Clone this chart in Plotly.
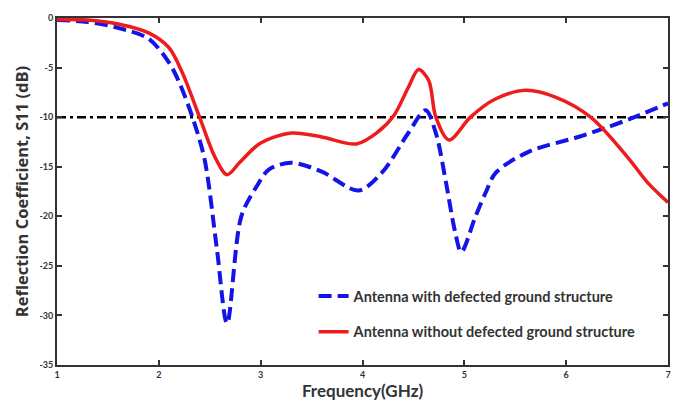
import plotly.graph_objects as go

# Frequency sweep (GHz) and S11 (dB) for the antenna without DGS
freq_without = [1.0, 1.3, 1.6, 1.9, 2.1, 2.23, 2.4, 2.55, 2.67, 2.8, 3.0, 3.3, 3.6, 3.94,
                4.15, 4.31, 4.45, 4.55, 4.65, 4.72, 4.85, 5.06, 5.3, 5.6, 5.9, 6.24,
                6.6, 6.8, 7.0]
s11_without = [-0.15, -0.2, -0.6, -1.5, -3.0, -5.5, -10.0, -14.0, -15.8, -14.5, -12.6,
               -11.6, -12.0, -12.7, -11.5, -9.8, -7.0, -5.2, -6.3, -10.0, -12.3, -10.0,
               -8.2, -7.3, -8.0, -10.0, -14.0, -16.6, -18.6]

# S11 (dB) for the antenna with defected ground structure
freq_with = [1.0, 1.3, 1.6, 1.9, 2.1, 2.2, 2.33, 2.45, 2.57, 2.67, 2.81, 2.96, 3.08,
             3.3, 3.6, 3.96, 4.19, 4.45, 4.62, 4.72, 4.82, 4.91, 4.97, 5.11, 5.21,
             5.31, 5.63, 6.12, 6.41, 6.67, 7.0]
s11_with = [-0.2, -0.4, -1.0, -2.1, -4.5, -6.5, -10.0, -14.3, -23.3, -30.8, -20.0,
            -17.0, -15.3, -14.6, -15.5, -17.4, -15.6, -11.6, -9.3, -11.6, -16.6,
            -21.6, -23.6, -20.0, -17.6, -15.6, -13.5, -12.0, -11.0, -10.0, -8.6]

# -10 dB bandwidth reference level
ref_freq = [1.0, 7.0]
ref_level = [-10.0, -10.0]

x_ticks = [1, 2, 3, 4, 5, 6, 7]
y_ticks = [0, -5, -10, -15, -20, -25, -30, -35]

label_font = dict(family="Lato", size=9, color="#333333", weight="bold")

fig = go.Figure()

fig.add_trace(go.Scatter(
    x=ref_freq, y=ref_level, mode="lines", showlegend=False,
    line=dict(color="black", width=2.5, dash="9px,4px,3px,4px"),
))
fig.add_trace(go.Scatter(
    x=freq_with, y=s11_with, mode="lines", name="Antenna with defected ground structure",
    legendgroup="g1",
    line=dict(color="#1414e6", width=4, dash="13px,6px", shape="spline", smoothing=0.9),
))
fig.add_trace(go.Scatter(
    x=freq_without, y=s11_without, mode="lines",
    name="Antenna without defected ground structure", legendgroup="g2",
    line=dict(color="#ee1c1c", width=3.5, shape="spline", smoothing=0.9),
))

axis_common = dict(
    showgrid=False, zeroline=False, showline=True, linecolor="#333333", linewidth=2,
    mirror="ticks", ticks="inside", ticklen=5, tickwidth=1.5, tickcolor="#333333",
    tickfont=label_font,
)

fig.update_xaxes(
    range=[1, 7], tickvals=x_ticks, ticktext=[str(v) for v in x_ticks],
    title=dict(text="Frequency(GHz)", standoff=6,
               font=dict(family="Lato", size=17, color="#333333", weight="bold")),
    **axis_common,
)
fig.update_yaxes(
    range=[-35, 0], tickvals=y_ticks, ticktext=[str(v) for v in y_ticks],
    title=dict(text="Reflection Coefficient, S11 (dB)", standoff=7,
               font=dict(family="Open Sans", size=16.5, color="#333333", weight="bold")),
    **axis_common,
)

fig.update_layout(
    width=683, height=410,
    margin=dict(l=57, r=13, t=17, b=45),
    paper_bgcolor="white", plot_bgcolor="white",
    legend=dict(
        x=0.42, y=0.245, xanchor="left", yanchor="top",
        font=dict(family="Lato", size=14.5, color="#333333", weight="bold"),
        bgcolor="rgba(255,255,255,0)", tracegroupgap=14,
    ),
)

fig.write_html("out.html")
